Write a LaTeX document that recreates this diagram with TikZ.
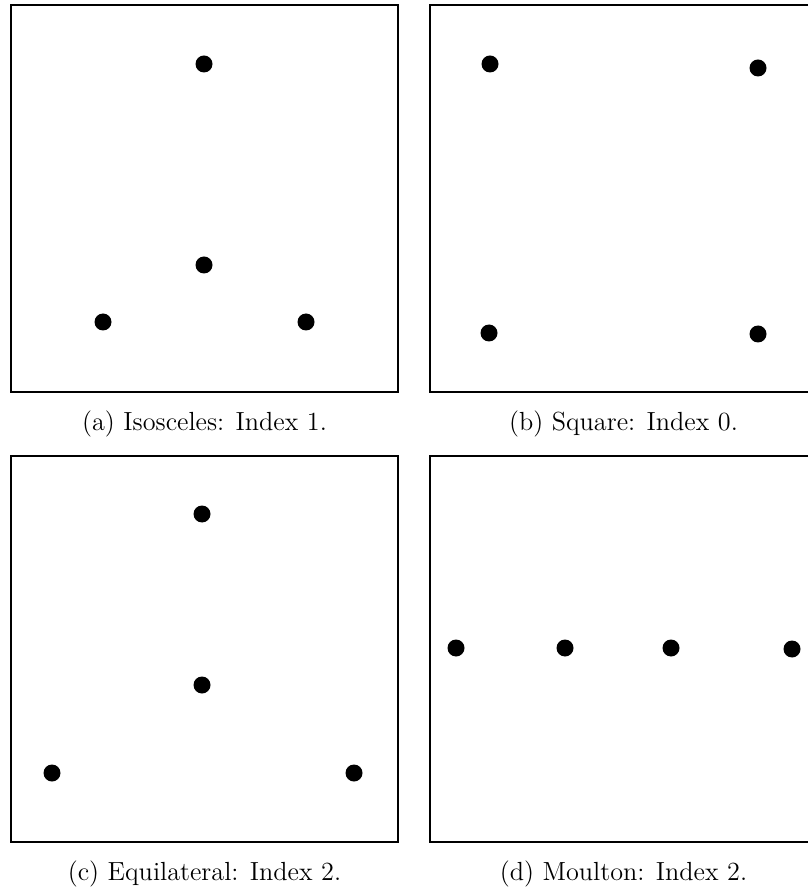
\documentclass[tikz,border=0pt]{standalone}
\begin{document}
\begin{tikzpicture}[x=0.4236pt,y=-0.4236pt,
  frame/.style={draw=black,line width=0.6pt},
  dotnode/.style={circle,fill=black,inner sep=0pt,minimum size=7.2pt},
  captext/.style={font=\fontsize{11.1}{13}\selectfont,inner sep=0pt}]
\useasboundingbox (0,0) rectangle (808,890);
% frames
\draw[frame] (11,5) rectangle (398,392);
\draw[frame] (808,5) -- (430,5) -- (430,392) -- (808,392);
\draw[frame] (11,456) rectangle (398,842);
\draw[frame] (808,456) -- (430,456) -- (430,842) -- (808,842);
% (a)
\node[dotnode] (a1) at (204,64) {};
\node[dotnode] (a2) at (204,265) {};
\node[dotnode] (a3) at (103,322) {};
\node[dotnode] (a4) at (306,322) {};
% (b)
\node[dotnode] (b1) at (490,64) {};
\node[dotnode] (b2) at (758,68) {};
\node[dotnode] (b3) at (489,333) {};
\node[dotnode] (b4) at (758,334) {};
% (c)
\node[dotnode] (c1) at (202,514) {};
\node[dotnode] (c2) at (202,685) {};
\node[dotnode] (c3) at (52,773) {};
\node[dotnode] (c4) at (354,773) {};
% (d)
\node[dotnode] (d1) at (456,648) {};
\node[dotnode] (d2) at (565,648) {};
\node[dotnode] (d3) at (671,648) {};
\node[dotnode] (d4) at (792,649) {};
% captions
\node[captext] (capa) at (204.5,424) {(a) Isosceles: Index 1.};
\node[captext] (capb) at (623.5,424) {(b) Square: Index 0.};
\node[captext] (capc) at (204.5,874) {(c) Equilateral: Index 2.};
\node[captext] (capd) at (623.5,874) {(d) Moulton: Index 2.};
\end{tikzpicture}
\end{document}
